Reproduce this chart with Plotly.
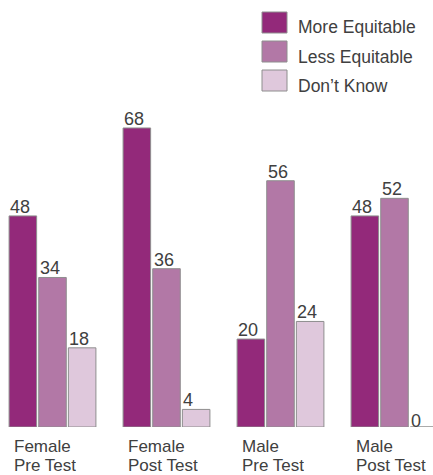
import plotly.graph_objects as go

# Survey groups and response shares (%)
group_sex = ["Female", "Female", "Male", "Male"]
group_test = ["Pre Test", "Post Test", "Pre Test", "Post Test"]
categories = [f"{s} {t}" for s, t in zip(group_sex, group_test)]
series_names = ["More Equitable", "Less Equitable", "Don\u2019t Know"]
more_equitable = [48, 68, 20, 48]
less_equitable = [34, 36, 56, 52]
dont_know = [18, 4, 24, 0]
series_values = [more_equitable, less_equitable, dont_know]

colors = ["#93297A", "#B278A6", "#DFC8DC"]
border = "#8E8E8E"
text_color = "#404040"
font_family = "Liberation Sans, Arial, sans-serif"

W, H, BOTTOM = 433, 475, 48
PLOT_H = H - BOTTOM

fig = go.Figure()
for name, vals, col in zip(series_names, series_values, colors):
    fig.add_trace(go.Bar(
        x=categories, y=vals, name=name,
        marker=dict(color=col, line=dict(color=border, width=1)),
        showlegend=False,
    ))

# Value labels, left-aligned with the left edge of each bar
slot = 29.5          # pixel width of one bar slot inside a group
group_half = 43.5    # half of the group's total bar width
for i, vals in enumerate(series_values):
    for cat, v in zip(categories, vals):
        fig.add_annotation(
            x=cat, y=v, xref="x", yref="y",
            text=str(v), showarrow=False,
            xanchor="left", yanchor="bottom",
            xshift=-group_half + i * slot - 1,
            yshift=-3 if v > 0 else -6,
            font=dict(size=18, color=text_color, family=font_family),
        )

# Two-line category labels under each group (tight line spacing)
for cat, s, t in zip(categories, group_sex, group_test):
    for line, shift in ((s, -18.5), (t, -37.8)):
        fig.add_annotation(
            x=cat, y=0, xref="x", yref="paper",
            text=line, showarrow=False,
            xanchor="left", yanchor="middle", height=16, valign="middle",
            xshift=-41, yshift=shift,
            font=dict(size=17, color=text_color, family=font_family),
        )

# Legend drawn as swatches with labels
leg_x0, leg_y0, sw_w, sw_h, row = 262, 12, 25, 21, 29
for i, (name, col) in enumerate(zip(series_names, colors)):
    y0 = leg_y0 + i * row
    fig.add_shape(
        type="rect", xref="paper", yref="paper",
        x0=leg_x0 / W, x1=(leg_x0 + sw_w) / W,
        y0=1 - (y0 + sw_h) / PLOT_H, y1=1 - y0 / PLOT_H,
        fillcolor=col, line=dict(color=border, width=1),
    )
    fig.add_annotation(
        x=(leg_x0 + sw_w + 9) / W, y=1 - (y0 + sw_h / 2 + 5) / PLOT_H,
        xref="paper", yref="paper", text=name, showarrow=False,
        xanchor="left", yanchor="middle",
        font=dict(size=17.5, color=text_color, family=font_family),
    )

r0 = -52.5 / 114
fig.update_layout(
    width=W, height=H,
    margin=dict(l=0, r=0, t=0, b=BOTTOM),
    barmode="group", bargap=0.22, bargroupgap=0.07,
    plot_bgcolor="white", paper_bgcolor="white",
    xaxis=dict(range=[r0, r0 + W / 114], showticklabels=False,
               showgrid=False, zeroline=False, showline=False),
    yaxis=dict(range=[0, 97.1], visible=False),
    font=dict(family=font_family, color=text_color),
)

fig.write_html("out.html")
